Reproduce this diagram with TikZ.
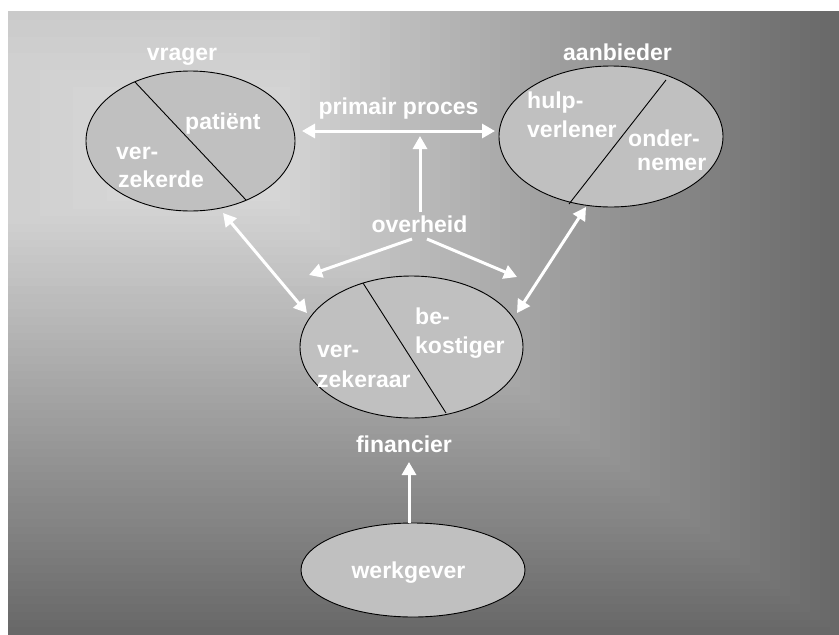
\documentclass[tikz,border=0pt]{standalone}
\usepackage{fontspec}
\setmainfont{Liberation Sans}
\usetikzlibrary{arrows.meta,shapes.geometric}
\definecolor{ellfill}{HTML}{C0C0C0}
\begin{document}
\begin{tikzpicture}[x=1pt,y=-1pt,
  lbl/.style={font=\fontsize{23}{27}\selectfont\bfseries, text=white, inner sep=0pt},
  ell/.style={draw=black, line width=0.9pt, fill=ellfill, ellipse, inner sep=0pt, outer sep=0pt},
  arr/.style={draw=white, line width=3pt, -{Triangle[length=13pt,width=14pt]}},
  darr/.style={draw=white, line width=3pt, {Triangle[length=13pt,width=14pt]}-{Triangle[length=13pt,width=14pt]}},
  chord/.style={draw=black, line width=0.9pt}]
\useasboundingbox (0,0) rectangle (839,635);
\fill[white] (0,0) rectangle (839,635);
\begin{scope}
\clip (8,11) rectangle (839,635);
\foreach \i in {60,59,...,0}{
  \pgfmathsetmacro\g{(222-118*\i/60)/255}
  \definecolor{bgc}{gray}{\g}
  \pgfmathsetmacro\d{\i/60}
  \fill[bgc] ({240-2000*\d},{170-1000*\d}) rectangle ({240+600*\d},{170+465*\d});
}
\end{scope}
% ellipses
\node[ell, minimum width=209pt, minimum height=140pt] (vr) at (190.5,141) {};
\node[ell, minimum width=224pt, minimum height=141pt] (an) at (611,136.5) {};
\node[ell, minimum width=223pt, minimum height=142pt] (vz) at (411.5,347) {};
\node[ell, minimum width=224pt, minimum height=94pt] (wg) at (413,570) {};
% chords
\coordinate (vrA) at (135,82);
\coordinate (vrB) at (246,200);
\coordinate (anA) at (666,80);
\coordinate (anB) at (569,204);
\coordinate (vzA) at (363,283);
\coordinate (vzB) at (446,413);
\draw[chord] (vrA) -- (vrB);
\draw[chord] (anA) -- (anB);
\draw[chord] (vzA) -- (vzB);
% labels
\node[lbl, anchor=base] (tvr) at (182,60) {vrager};
\node[lbl, anchor=base west] (tpat) at (185,129) {patiënt};
\node[lbl, anchor=base west] (tver1) at (116,159) {ver-};
\node[lbl, anchor=base west] (tzek1) at (118,187) {zekerde};
\node[lbl, anchor=base] (tan) at (617.5,60) {aanbieder};
\node[lbl, anchor=base west] (thulp) at (527,108) {hulp-};
\node[lbl, anchor=base west] (tverl) at (527,137) {verlener};
\node[lbl, anchor=base west] (tond) at (628,146) {onder-};
\node[lbl, anchor=base west] (tnem) at (637,170) {nemer};
\node[lbl, anchor=base] (tpp) at (398.5,114) {primair proces};
\node[lbl, anchor=base] (tov) at (419.5,232) {overheid};
\node[lbl, anchor=base west] (tbe) at (415,324) {be-};
\node[lbl, anchor=base west] (tkos) at (415,353) {kostiger};
\node[lbl, anchor=base west] (tver2) at (317,357) {ver-};
\node[lbl, anchor=base west] (tzek2) at (317,387) {zekeraar};
\node[lbl, anchor=base] (tfin) at (404,452) {financier};
\node[lbl, anchor=base] (twg) at (408.5,578) {werkgever};
% arrow end points
\coordinate (ppL) at (302,131);
\coordinate (ppR) at (495,131);
\coordinate (ovU0) at (420,212);
\coordinate (ovU1) at (420,136);
\coordinate (ovL0) at (412,239);
\coordinate (ovL1) at (309,275);
\coordinate (ovR0) at (427,239);
\coordinate (ovR1) at (517,277);
\coordinate (vvA) at (223,213);
\coordinate (vvB) at (307,313);
\coordinate (avA) at (586,207);
\coordinate (avB) at (517,313);
\coordinate (fin0) at (409,523);
\coordinate (fin1) at (409,462);
% arrows
\draw[darr] (ppL) -- (ppR);
\draw[arr] (ovU0) -- (ovU1);
\draw[arr] (ovL0) -- (ovL1);
\draw[arr] (ovR0) -- (ovR1);
\draw[darr] (vvA) -- (vvB);
\draw[darr] (avA) -- (avB);
\draw[arr] (fin0) -- (fin1);
\end{tikzpicture}
\end{document}
